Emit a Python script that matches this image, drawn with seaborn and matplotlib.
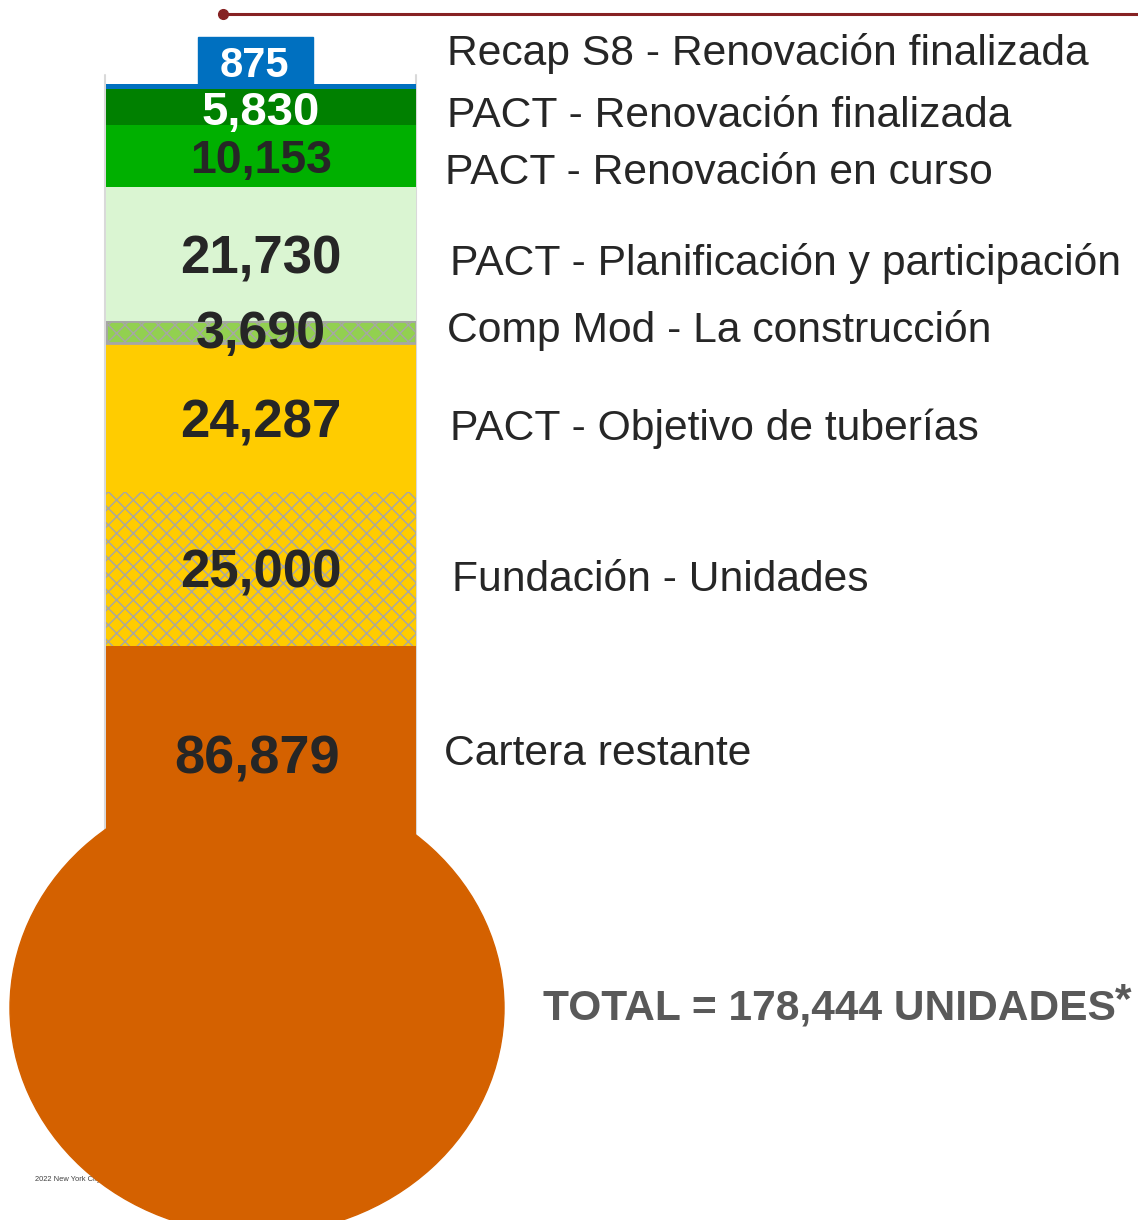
import numpy as np
import pandas as pd
import matplotlib
matplotlib.use("Agg")
import matplotlib.pyplot as plt
from matplotlib.patches import Ellipse, Rectangle
import seaborn as sns

# tube segments, from the bottom of the thermometer to the top
segments = ["Cartera restante", "Fundación - Unidades", "PACT - Objetivo de tuberías",
            "Comp Mod - La construcción", "PACT - Planificación y participación",
            "PACT - Renovación en curso", "PACT - Renovación finalizada",
            "Recap S8 - Renovación finalizada"]
units = [86879, 25000, 24287, 3690, 21730, 10153, 5830, 875]
total_text = "TOTAL = 178,444 UNIDADES"
footnote = "2022 New York City Housing Authority"

seg_colors = ["#D46100", "#FFCC00", "#FFCC00", "#92D050", "#DAF5D2",
              "#00B000", "#008000", "#0070C0"]
hatched = [False, True, False, True, False, False, False, False]
value_colors = ["#262626"] * 6 + ["white", "white"]

# layout (pixels, figure is 1138 x 1220)
value_x = [257, 261, 261, 261, 261, 261, 261, 254]
value_base = [773, 587, 437, 348, 274, 173, 125, 77]
value_size = [39, 38, 38, 37.5, 38, 33.5, 34, 30]
label_x = [444, 452, 450, 447, 450, 445, 447, 447]
label_base = [765, 591, 440, 342, 275, 184, 127, 65]

sns.set_style("white")
plt.rcParams["font.family"] = ["Liberation Sans", "DejaVu Sans"]
plt.rcParams["hatch.linewidth"] = 1.0

W, H = 1138, 1220
fig = plt.figure(figsize=(W / 100, H / 100), dpi=100)

# background axes in pixel coordinates for the decorations
bg = fig.add_axes([0, 0, 1, 1])
bg.set_xlim(0, W)
bg.set_ylim(H, 0)
bg.axis("off")
bg.set_zorder(1)

bg.text(35, 1181, footnote, fontsize=5.4, color="#404040", zorder=1)
bg.add_patch(Ellipse((257, 1008), 494, 452, color=seg_colors[0], zorder=2))
bg.plot([105, 105], [75, 832], color="#d9d9d9", lw=1.5, zorder=1)
bg.plot([416.5, 416.5], [75, 835], color="#d9d9d9", lw=1.5, zorder=1)
bg.plot([223, W], [14, 14], color="#862223", lw=2.2, zorder=3)
bg.plot([223], [14], "o", color="#862223", markersize=7, zorder=3)

# the tube itself: stacked bar
top_px, bot_px, left_px, right_px = 84, 1179, 106, 416
ax = fig.add_axes([left_px / W, (H - bot_px) / H, (right_px - left_px) / W, (bot_px - top_px) / H])
ax.set_zorder(5)
ax.patch.set_alpha(0)

cum = np.cumsum(units)
bottoms = cum - np.array(units)
df = pd.DataFrame({"tube": ["t"] * len(units), "cum": cum, "segment": segments})
sns.barplot(data=df, x="tube", y="cum", hue="segment", hue_order=segments[::-1],
            palette=dict(zip(segments, seg_colors)), dodge=False, saturation=1,
            width=1, errorbar=None, legend=False, linewidth=0, ax=ax)

for p in ax.patches:
    i = int(np.argmin(np.abs(cum - p.get_height())))
    p.set_y(bottoms[i])
    p.set_height(units[i])
    p.set_zorder(2 + i * 0.01)
    if hatched[i]:
        p.set_hatch("xx")
        p.set_edgecolor("#a6a6a6")
        p.set_linewidth(0 if i == 1 else 2)

ax.set_xlim(-0.5, 0.5)
ax.set_ylim(0, cum[-1])
ax.axis("off")

# overlay for the texts and the blue tag above the tube
fg = fig.add_axes([0, 0, 1, 1])
fg.set_xlim(0, W)
fg.set_ylim(H, 0)
fg.axis("off")
fg.set_zorder(10)

fg.add_patch(Rectangle((198, 37), 115, 47, color=seg_colors[-1], zorder=1))
for i, v in enumerate(units):
    fg.text(value_x[i], value_base[i], f"{v:,}", fontsize=value_size[i], fontweight="bold",
            color=value_colors[i], ha="center", va="baseline", zorder=3)
    fg.text(label_x[i], label_base[i], segments[i], fontsize=30.7, color="#262626",
            ha="left", va="baseline", zorder=3)

fg.text(543, 1020, total_text, fontsize=30.6, fontweight="bold", color="#595959", va="baseline")
fg.text(1115, 1012, "*", fontsize=30.6, fontweight="bold", color="#595959", va="baseline")

fig.savefig("out.png", dpi=100)
